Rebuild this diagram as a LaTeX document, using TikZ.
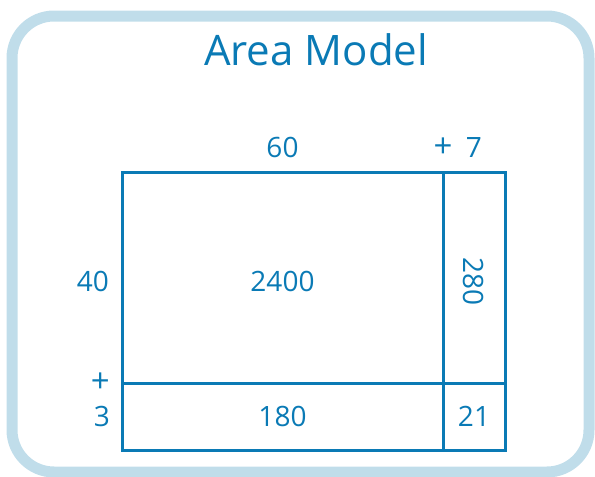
\documentclass[tikz,border=0pt]{standalone}
\usepackage{fontspec}
\setmainfont{Open Sans}
\usetikzlibrary{positioning}
\definecolor{areablue}{HTML}{0A7AB5}
\definecolor{framebg}{HTML}{C0DDEA}
\tikzstyle{cell} = [draw=areablue, line width=3pt, text=areablue, outer sep=0pt, inner sep=0pt, font=\fontsize{28}{34}\selectfont]
\tikzstyle{factor} = [text=areablue, inner sep=0pt, font=\fontsize{28}{34}\selectfont]
\tikzstyle{plus} = [factor, font=\fontsize{33}{34}\selectfont]

\begin{document}
\begin{tikzpicture}[x=1pt, y=-1pt, node distance=14pt]
\useasboundingbox (0,0) rectangle (595,477);
\draw[framebg, line width=11pt, rounded corners=42pt] (12,16) rectangle (589,472);
\node (title) [text=areablue, font=\fontsize{42}{50}\selectfont] at (316,50) {Area Model};
% the four partial products
\node (c11) [cell, minimum width=321pt, minimum height=211pt, anchor=north west, text height=28pt, text depth=0pt] at (122,172) {2400};
\node (c12) [cell, minimum width=62pt, minimum height=211pt, right=0pt of c11, text height=0pt, text depth=41pt] {\rotatebox{-90}{280}};
\node (c21) [cell, minimum width=321pt, minimum height=67pt, below=0pt of c11] {180};
\node (c22) [cell, minimum width=62pt, minimum height=67pt, right=0pt of c21] {21};
% the factors
\node (sixty) [factor, above=14pt of c11] {60};
\node (plustop) [plus, above=14pt of c11.north east] {+};
\node (seven) [factor, above=14pt of c12] {7};
\node (forty) [factor, left=13pt of c11, yshift=-4pt] {40};
\node (plusleft) [plus, left=12pt of c11.south west] {+};
\node (three) [factor, left=12pt of c21] {3};
\end{tikzpicture}
\end{document}
